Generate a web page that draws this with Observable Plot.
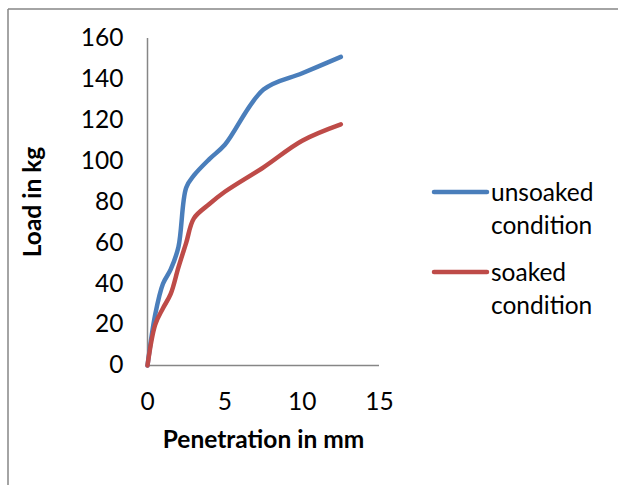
<!DOCTYPE html>
<html>
<head>
<meta charset="utf-8">
<script src="https://cdn.jsdelivr.net/npm/d3@7"></script>
<script src="https://cdn.jsdelivr.net/npm/@observablehq/plot@0.6"></script>
<style>
  html, body { margin: 0; padding: 0; background: #fff; }
  #chart { width: 618px; height: 485px; }
</style>
</head>
<body>
<div id="chart"></div>
<script>
const penetration = [0, 0.5, 1, 1.5, 2, 2.5, 3, 4, 5, 7.5, 10, 12.5];
const unsoaked = [0, 25, 40, 47, 58, 87, 93, 101, 108, 135, 143, 151];
const soaked = [0, 20, 28, 35, 48, 60, 72, 79, 85, 97, 110, 118];
const seriesNames = ["unsoaked condition", "soaked condition"];
const seriesColors = ["#4a7ebb", "#be4b48"];
const xTicks = [0, 5, 10, 15];
const yTicks = [0, 20, 40, 60, 80, 100, 120, 140, 160];

const rows = [];
penetration.forEach((p, i) => rows.push({x: p, y: unsoaked[i], s: seriesNames[0]}));
penetration.forEach((p, i) => rows.push({x: p, y: soaked[i], s: seriesNames[1]}));

const FONT = "Lato, 'Open Sans', sans-serif";
const FS = 24.5;

const plot = Plot.plot({
  width: 618,
  height: 485,
  marginLeft: 147,
  marginRight: 239,
  marginTop: 38,
  marginBottom: 120,
  style: {fontFamily: FONT, fontSize: FS + "px", color: "#000", background: "#fff"},
  x: {domain: [0, 15], ticks: xTicks},
  y: {domain: [0, 160], ticks: yTicks},
  color: {domain: seriesNames, range: seriesColors},
  marks: [
    Plot.axisY(yTicks, {tickSize: 0, tickPadding: 24, label: null, fontSize: FS, fill: "#000"}),
    Plot.axisX(xTicks, {tickSize: 0, tickPadding: 27, label: null, fontSize: FS, fill: "#000"}),
    Plot.ruleX([0], {y1: 0, y2: 160, stroke: "#868686", strokeWidth: 1.5}),
    Plot.ruleY([0], {x1: 0, x2: 15, stroke: "#868686", strokeWidth: 1.5}),
    Plot.line(rows, {x: "x", y: "y", z: "s", stroke: "s", strokeWidth: 4.5, curve: "catmull-rom", strokeLinecap: "round", strokeLinejoin: "round"}),
    Plot.text(["Penetration in mm"], {frameAnchor: "bottom", dy: 75, textAnchor: "middle", lineAnchor: "middle", fontWeight: "bold", fontSize: FS, fill: "#000"}),
    Plot.text(["Load in kg"], {frameAnchor: "left", dx: -114, rotate: -90, textAnchor: "middle", lineAnchor: "middle", fontWeight: "bold", fontSize: FS, fill: "#000"})
  ]
});

document.getElementById("chart").appendChild(plot);

const svg = d3.select(plot);
// outer frame
svg.append("line").attr("x1", 8).attr("x2", 8).attr("y1", 9).attr("y2", 485).attr("stroke", "#868686").attr("stroke-width", 1.5);
svg.append("line").attr("x1", 8).attr("x2", 618).attr("y1", 9).attr("y2", 9).attr("stroke", "#868686").attr("stroke-width", 1.5);

// legend
const legendItems = [
  {lineY: 192, lines: ["unsoaked", "condition"], textY: [192, 225]},
  {lineY: 272, lines: ["soaked", "condition"], textY: [272, 305]}
];
legendItems.forEach((it, i) => {
  const g = svg.append("g");
  g.append("line").attr("x1", 434).attr("x2", 487).attr("y1", it.lineY).attr("y2", it.lineY)
    .attr("stroke", seriesColors[i]).attr("stroke-width", 4.5).attr("stroke-linecap", "round");
  it.lines.forEach((t, j) => {
    g.append("text").attr("x", 491).attr("y", it.textY[j]).attr("dy", "0.35em")
      .attr("text-anchor", "start")
      .attr("font-family", FONT).attr("font-size", FS).attr("fill", "#000").text(t);
  });
});
</script>
</body>
</html>
